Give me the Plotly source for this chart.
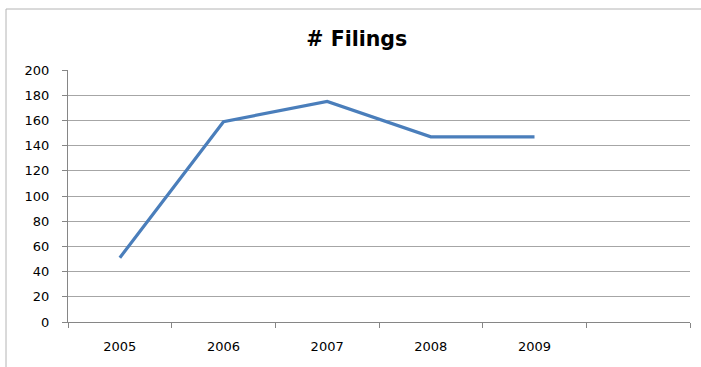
import plotly.graph_objects as go

# Number of filings per year
years = ["2005", "2006", "2007", "2008", "2009"]
filings = [51, 159, 175, 147, 147]
# an extra, unlabelled slot keeps room on the right of the category axis
axis_slots = years + [" "]
y_ticks = list(range(0, 201, 20))

fig = go.Figure()
fig.add_trace(go.Scatter(
    x=years, y=filings, mode="lines",
    line=dict(color="#4a7ebb", width=3.2),
    showlegend=False, hoverinfo="x+y",
))

font_family = "DejaVu Sans"

# chart-area frame: only its top and left edges fall inside the page
frame_left = (6 - 68) / 622
frame_top = (322 - 9) / 252
frame_right = (701 - 68) / 622
frame_bottom = (322 - 367) / 252
frame_line = dict(color="#b4b4b4", width=1)

fig.update_layout(
    width=701, height=367,
    margin=dict(l=68, r=11, t=70, b=45),
    paper_bgcolor="white", plot_bgcolor="white",
    title=dict(
        text="<b># Filings</b>", x=0.509, xref="container", xanchor="center",
        y=1 - 39 / 367, yref="container", yanchor="middle",
        font=dict(family=font_family, size=20.5, color="black"),
    ),
    xaxis=dict(
        type="category", categoryorder="array", categoryarray=axis_slots,
        range=[-0.5, 5.5], tickson="boundaries",
        ticks="outside", ticklen=5, tickcolor="#868686", tickwidth=1,
        showline=True, linecolor="#868686", linewidth=1,
        showgrid=False, zeroline=False,
        tickfont=dict(family=font_family, size=13, color="black"),
        ticklabelstandoff=12,
    ),
    yaxis=dict(
        range=[0, 200], tickvals=y_ticks,
        ticks="outside", ticklen=5, tickcolor="#868686", tickwidth=1,
        showline=True, linecolor="#868686", linewidth=1,
        showgrid=True, gridcolor="#a6a6a6", gridwidth=1,
        zeroline=False,
        tickfont=dict(family=font_family, size=13, color="black"),
        ticklabelstandoff=10,
    ),
    shapes=[
        dict(type="line", xref="paper", yref="paper",
             x0=frame_left, x1=frame_right, y0=frame_top, y1=frame_top,
             line=frame_line, layer="below"),
        dict(type="line", xref="paper", yref="paper",
             x0=frame_left, x1=frame_left, y0=frame_bottom, y1=frame_top,
             line=frame_line, layer="below"),
    ],
)

fig.write_html("out.html")
